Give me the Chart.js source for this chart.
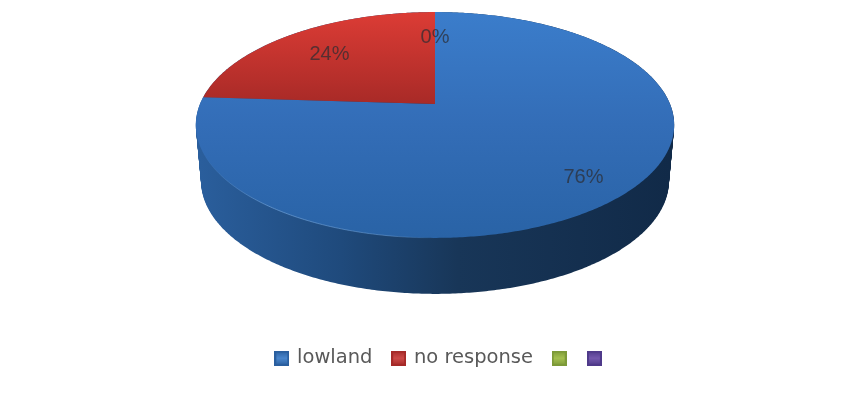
<!DOCTYPE html>
<html><head><meta charset="utf-8">
<style>html,body{margin:0;padding:0;background:#fff}#w{width:854px;height:393px}canvas{filter:blur(.7px)}</style>
<script src="https://cdn.jsdelivr.net/npm/chart.js@4"></script></head>
<body><div id="w"><canvas id="c"></canvas></div>
<script>
const categories=["lowland","no response","",""];
const shares=[76,24,0,0];
const percentLabels=["76%","24%","0%","0%"];
const swatchTop=["#4a86cc","#cc4a48","#a5c050","#7458ad"];
const swatchBottom=["#2a5f9f","#a52a28","#7d9a38","#4f3a8a"];

const PERSPECTIVE=0.1859, RX=235, RY=109, APEX_Y=104, DEPTH=56, PIE_SHIFT=-8;
const LABEL_R=[.82,.72,.72,.72], LABEL_DY=[0,3,3,3];

function swatch(i){
  const c=document.createElement('canvas');c.width=15;c.height=15;
  const x=c.getContext('2d'),g=x.createLinearGradient(0,0,0,15);
  g.addColorStop(0,swatchBottom[i]);g.addColorStop(.5,swatchTop[i]);g.addColorStop(1,swatchBottom[i]);
  x.fillStyle=swatchBottom[i];x.fillRect(0,0,15,15);
  x.fillStyle=g;x.fillRect(2,2,11,11);
  return c;
}
function proj(cx,a,r,scale,dy){
  const u=Math.cos(a)*r,v=Math.sin(a)*r,d=1-PERSPECTIVE*v;
  return [cx+RX*scale*u/d, APEX_Y+RY*v/d+dy];
}
function trace(ctx,cx,a0,a1,scale,dy,center){
  ctx.beginPath();
  if(center) ctx.moveTo(cx,APEX_Y+dy);
  const n=Math.max(2,Math.ceil((a1-a0)/0.01));
  for(let i=0;i<=n;i++){const p=proj(cx,a0+(a1-a0)*i/n,1,scale,dy);ctx.lineTo(p[0],p[1]);}
  ctx.closePath();
}
const pie3d={id:'pie3d',
  beforeDatasetDraw(chart){
    const ctx=chart.ctx,arcs=chart.getDatasetMeta(0).data,cx=arcs[0].x+PIE_SHIFT,l=cx-RX,r=cx+RX;
    ctx.save();
    const side=ctx.createLinearGradient(l,0,r,0);
    side.addColorStop(0,'#2a5e9c');side.addColorStop(.3,'#1f4a7c');side.addColorStop(.55,'#183658');side.addColorStop(1,'#112a48');
    ctx.fillStyle=side;
    for(let d=DEPTH;d>=0;d--){trace(ctx,cx,0,Math.PI*2,1-.022*d/DEPTH,d,false);ctx.fill();}
    const blue=ctx.createLinearGradient(0,12,0,238);
    blue.addColorStop(0,'#3b7dcb');blue.addColorStop(.5,'#336db7');blue.addColorStop(1,'#2963a6');
    const red=ctx.createLinearGradient(0,12,0,APEX_Y);
    red.addColorStop(0,'#dc3c35');red.addColorStop(1,'#a82a27');
    const fills=[blue,red];
    arcs.forEach((arc,i)=>{
      if(arc.endAngle-arc.startAngle<1e-4) return;
      ctx.fillStyle=fills[i];
      trace(ctx,cx,arc.startAngle,arc.endAngle,1,0,true);ctx.fill();
    });
    const rim=ctx.createLinearGradient(l,0,cx,0);
    rim.addColorStop(0,'rgba(110,160,215,0)');rim.addColorStop(.3,'rgba(110,160,215,.7)');rim.addColorStop(.8,'rgba(110,160,215,.5)');rim.addColorStop(1,'rgba(110,160,215,0)');
    ctx.strokeStyle=rim;ctx.lineWidth=1;
    ctx.beginPath();
    for(let i=0;i<=150;i++){const p=proj(cx,Math.PI/2+Math.PI/2*i/150,1,1,0);ctx.lineTo(p[0],p[1]);}
    ctx.stroke();
    ctx.restore();
    return false;
  },
  afterDatasetsDraw(chart){
    const ctx=chart.ctx,arcs=chart.getDatasetMeta(0).data,seen=new Set();
    ctx.save();
    ctx.font='20px "Liberation Sans"';ctx.textAlign='center';ctx.textBaseline='middle';ctx.fillStyle='rgba(45,45,50,.72)';
    arcs.forEach((arc,i)=>{
      const t=percentLabels[i];if(seen.has(t))return;seen.add(t);
      const p=proj(arc.x+PIE_SHIFT,(arc.startAngle+arc.endAngle)/2,LABEL_R[i],1,LABEL_DY[i]);
      ctx.fillText(t,p[0],p[1]);
    });
    ctx.restore();
  }
};
new Chart(document.getElementById('c'),{
  type:'pie',
  data:{labels:categories,datasets:[{data:shares,backgroundColor:swatchBottom,borderWidth:0}]},
  plugins:[pie3d],
  options:{
    responsive:true,maintainAspectRatio:false,animation:false,
    layout:{padding:{left:32,bottom:15}},
    plugins:{
      tooltip:{enabled:false},
      legend:{position:'bottom',
        labels:{usePointStyle:true,boxWidth:11,boxHeight:11,padding:14.5,color:'#595959',
          font:{family:'"DejaVu Sans"',size:19.5},
          generateLabels(chart){
            return categories.map((c,i)=>({text:c?c+'\u00a0':c,fillStyle:swatchBottom[i],strokeStyle:swatchBottom[i],lineWidth:0,pointStyle:swatch(i),hidden:false,index:i,fontColor:'#595959'}));
          }}
      }
    }
  }
});
</script></body></html>
